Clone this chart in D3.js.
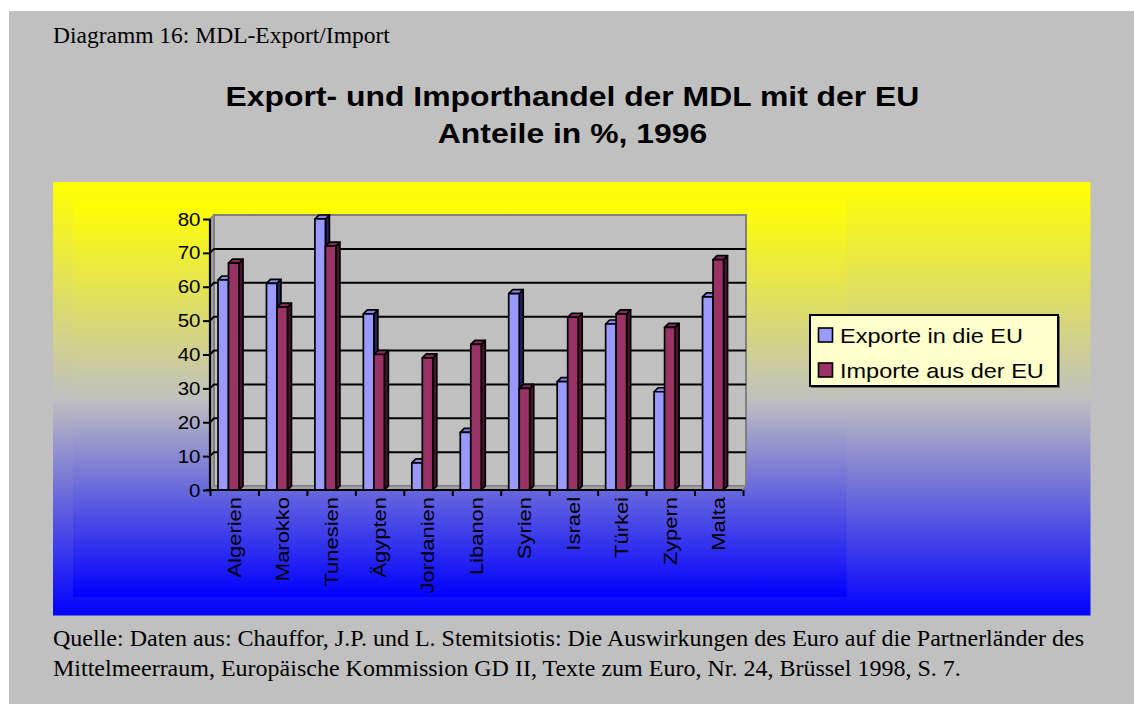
<!DOCTYPE html>
<html>
<head>
<meta charset="utf-8">
<script src="https://cdn.jsdelivr.net/npm/d3@7"></script>
<style>
  body { margin: 0; background: #ffffff; }
  svg { display: block; }
  .sans { font-family: "Liberation Sans", Arial, sans-serif; fill: #000; }
  .serif { font-family: "Liberation Serif", "Times New Roman", serif; fill: #000; }
</style>
</head>
<body>
<svg id="chart" width="1134" height="704"></svg>
<script>
// Shares of trade with the EU, 1996 (%)
const categories = ["Algerien", "Marokko", "Tunesien", "Ägypten", "Jordanien", "Libanon", "Syrien", "Israel", "Türkei", "Zypern", "Malta"];
const exportValues = [62, 61, 80, 52, 8, 17, 58, 32, 49, 29, 57];
const importValues = [67, 54, 72, 40, 39, 43, 30, 51, 52, 48, 68];
const seriesNames = ["Exporte in die EU", "Importe aus der EU"];
const yTicks = [0, 10, 20, 30, 40, 50, 60, 70, 80];
const titleLines = ["Export- und Importhandel der MDL mit der EU", "Anteile in %, 1996"];
const caption = "Diagramm 16: MDL-Export/Import";
const sourceLines = [
  "Quelle: Daten aus: Chauffor, J.P. und L. Stemitsiotis: Die Auswirkungen des Euro auf die Partnerländer des",
  "Mittelmeerraum, Europäische Kommission GD II, Texte zum Euro, Nr. 24, Brüssel 1998, S. 7."
];

const svg = d3.select("#chart");
const SX = 1.14;           // horizontal stretch of the sans-serif lettering
const D = 4;               // 3-D depth offset of bars and walls

// page background
svg.append("rect").attr("x", 9).attr("y", 11).attr("width", 1125).attr("height", 693).attr("fill", "#c0c0c0");

// gradients: yellow -> grey -> blue
const defs = svg.append("defs");
function addGradient(id) {
  const g = defs.append("linearGradient").attr("id", id).attr("x1", 0).attr("y1", 0).attr("x2", 0).attr("y2", 1);
  g.append("stop").attr("offset", "0%").attr("stop-color", "#ffff00");
  g.append("stop").attr("offset", "50%").attr("stop-color", "#c0c0c0");
  g.append("stop").attr("offset", "100%").attr("stop-color", "#0000ff");
}
addGradient("gOuter");
addGradient("gInner");

svg.append("rect").attr("x", 53).attr("y", 182).attr("width", 1037.5).attr("height", 433.5).attr("fill", "url(#gOuter)");
svg.append("rect").attr("x", 73).attr("y", 201.5).attr("width", 773.5).attr("height", 395.5).attr("fill", "url(#gInner)");

// caption & title
svg.append("text").attr("class", "serif").attr("x", 53).attr("y", 43.3).attr("font-size", 23.5).text(caption);

titleLines.forEach((t, i) => {
  svg.append("text").attr("class", "sans")
    .attr("transform", `translate(572.5,${i === 0 ? 106 : 142.5}) scale(1.16,1)`)
    .attr("text-anchor", "middle").attr("font-weight", "bold").attr("font-size", 27.5)
    .text(t);
});

// scales
const y = d3.scaleLinear().domain([0, 80]).range([490, 219]);
const x = d3.scaleBand().domain(categories).range([210, 743]).paddingInner(0).paddingOuter(0);
const xEdges = d3.scaleLinear().domain([0, categories.length]).range([210, 743]);
const x0 = y(0);
const wallL = 210, wallR = 746;

// walls
const wall = svg.append("g");
wall.append("polygon")
  .attr("points", [[wallL, y(80)], [wallL + D, y(80) - D], [wallL + D, x0 - D], [wallL, x0]].join(" "))
  .attr("fill", "#a6a6a6").attr("stroke", "#808080").attr("stroke-width", 1.5);
wall.append("rect")
  .attr("x", wallL + D).attr("y", y(80) - D).attr("width", wallR - wallL - D).attr("height", y(0) - y(80))
  .attr("fill", "#c0c0c0").attr("stroke", "#808080").attr("stroke-width", 2);
wall.append("polygon")
  .attr("points", [[wallL, x0], [wallL + D, x0 - D], [wallR, x0 - D], [wallR - D, x0]].join(" "))
  .attr("fill", "#a0a0a0").attr("stroke", "#808080").attr("stroke-width", 1);

// gridlines on side and back walls
yTicks.filter(v => v > 0 && v < 80).forEach(v => {
  wall.append("path")
    .attr("d", `M${wallL},${y(v)}L${wallL + D},${y(v) - D}L${wallR},${y(v) - D}`)
    .attr("fill", "none").attr("stroke", "#000").attr("stroke-width", 2);
});

// bars
const barW = 10.5, barOff = 8;
const series = [
  { values: exportValues, front: "#9999ff", top: "#8686e6", side: "#23235a" },
  { values: importValues, front: "#993366", top: "#86295a", side: "#4a1430" }
];
const bars = svg.append("g").attr("stroke", "#000").attr("stroke-width", 1.7).attr("stroke-linejoin", "round");
categories.forEach((c, i) => {
  series.forEach((s, k) => {
    const bx = x(c) + barOff + k * barW;
    const by = y(s.values[i]);
    const g = bars.append("g");
    g.append("polygon")
      .attr("points", [[bx + barW, by], [bx + barW + D, by - D], [bx + barW + D, x0 - D], [bx + barW, x0]].join(" "))
      .attr("fill", s.side);
    g.append("polygon")
      .attr("points", [[bx, by], [bx + D, by - D], [bx + barW + D, by - D], [bx + barW, by]].join(" "))
      .attr("fill", s.top);
    g.append("rect").attr("x", bx).attr("y", by).attr("width", barW).attr("height", x0 - by).attr("fill", s.front);
  });
});

// y axis
svg.append("g").attr("transform", `translate(${wallL},0)`)
  .call(d3.axisLeft(y).tickValues(yTicks).tickSize(7).tickFormat(d3.format("d")))
  .call(g => g.select(".domain").attr("stroke", "#000").attr("stroke-width", 2.2).attr("d", `M0,${x0}V${y(80)}`))
  .call(g => g.selectAll(".tick line").attr("stroke", "#000").attr("stroke-width", 2))
  .call(g => g.selectAll(".tick text").attr("class", "sans").attr("font-family", null).attr("font-size", 18)
    .attr("x", -9.5 / SX).attr("dy", "0.34em").attr("transform", `scale(${SX},1)`));

// x axis: tick marks on category boundaries
svg.append("g").attr("transform", `translate(0,${x0})`)
  .call(d3.axisBottom(xEdges).tickValues(d3.range(categories.length + 1)).tickSize(6).tickFormat(""))
  .call(g => g.select(".domain").attr("stroke", "#000").attr("stroke-width", 2.2).attr("d", `M${wallL - 4},0H${wallR - D}`))
  .call(g => g.selectAll(".tick line").attr("stroke", "#000").attr("stroke-width", 2));

// x axis: rotated category labels
svg.append("g").attr("transform", `translate(0,${x0})`)
  .call(d3.axisBottom(x).tickSize(0).tickPadding(0))
  .call(g => g.select(".domain").remove())
  .call(g => g.selectAll(".tick text").attr("class", "sans").attr("font-family", null).attr("font-size", 18.3)
    .attr("text-anchor", "end").attr("x", -7 / 1.2).attr("y", 0).attr("dy", "0.35em")
    .attr("transform", `rotate(-90) scale(1.2,1)`));

// legend
const lg = svg.append("g");
lg.append("rect").attr("x", 811).attr("y", 316).attr("width", 249).attr("height", 72).attr("fill", "#6e6e6e");
lg.append("rect").attr("x", 810).attr("y", 315).attr("width", 248).attr("height", 71)
  .attr("fill", "#ffffcc").attr("stroke", "#000").attr("stroke-width", 2);
seriesNames.forEach((name, k) => {
  const yy = 328 + k * 35;
  lg.append("rect").attr("x", 818.5).attr("y", yy).attr("width", 14).attr("height", 14)
    .attr("fill", series[k].front).attr("stroke", "#000").attr("stroke-width", 1.6);
  lg.append("text").attr("class", "sans").attr("font-size", 21)
    .attr("transform", `translate(840,${yy + 15}) scale(1.12,1)`).text(name);
});

// source note
sourceLines.forEach((t, i) => {
  svg.append("text").attr("class", "serif").attr("x", 53).attr("y", 646 + i * 30).attr("font-size", 24).text(t);
});
</script>
</body>
</html>
